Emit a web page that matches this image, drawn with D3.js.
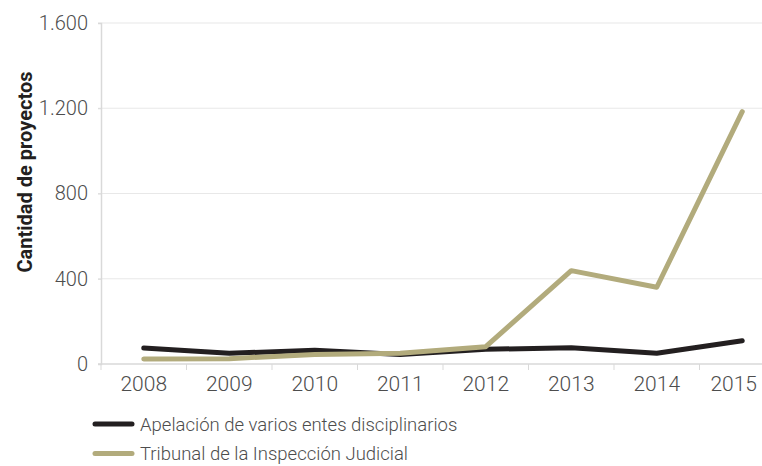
<!DOCTYPE html>
<html>
<head>
<meta charset="utf-8">
<script src="https://cdn.jsdelivr.net/npm/d3@7/dist/d3.min.js"></script>
<style>
  html, body { margin: 0; padding: 0; background: #fff; }
  svg { display: block; }
  text { font-family: "Roboto", "Liberation Sans", sans-serif; }
</style>
</head>
<body>
<svg id="chart" width="762" height="466"></svg>
<script>
// Years along the x axis
const years = ["2008", "2009", "2010", "2011", "2012", "2013", "2014", "2015"];
// Number of projects per year, by body
const apelacion = [75, 50, 65, 45, 69, 76, 50, 109];
const tribunal = [23, 25, 45, 50, 81, 438, 360, 1184];
const seriesNames = ["Apelación de varios entes disciplinarios", "Tribunal de la Inspección Judicial"];
const seriesColors = ["#231f20", "#b2ab7c"];
const yTicks = [0, 400, 800, 1200, 1600];

const W = 762;
const svg = d3.select("#chart");
const plot = { left: 101, top: 23, bottom: 364, right: 785 };

const x = d3.scaleBand().domain(years).range([plot.left, plot.right]);
const y = d3.scaleLinear().domain([0, 1600]).range([plot.bottom, plot.top]);

const fmt = d => d3.format(",")(d).replace(/,/g, ".");
const labelColor = "#4d4d4d";

// Horizontal gridlines
svg.append("g").selectAll("line").data(yTicks.filter(d => d > 0)).join("line")
  .attr("x1", plot.left - 3).attr("x2", W)
  .attr("y1", d => y(d)).attr("y2", d => y(d))
  .attr("stroke", "#e8e8e8").attr("stroke-width", 1.2);

// Y axis
const yAxis = svg.append("g").attr("transform", `translate(${plot.left},0)`)
  .call(d3.axisLeft(y).tickValues(yTicks).tickFormat(fmt).tickSize(3).tickPadding(10));
yAxis.select(".domain").attr("stroke", "#d9d9d9").attr("stroke-width", 1.5);
yAxis.selectAll(".tick line").attr("stroke", "#d9d9d9");
yAxis.selectAll(".tick text")
  .attr("font-size", 20).attr("font-weight", 300).attr("fill", labelColor)
  .attr("font-family", "Roboto, sans-serif");

// X axis
const xAxis = svg.append("g").attr("transform", `translate(0,${plot.bottom})`)
  .call(d3.axisBottom(x).tickSize(0).tickPadding(12));
xAxis.select(".domain").remove();
svg.append("line").attr("x1", plot.left - 3).attr("x2", W)
  .attr("y1", plot.bottom).attr("y2", plot.bottom)
  .attr("stroke", "#d9d9d9").attr("stroke-width", 1.5);
svg.append("g").selectAll("line").data(years).join("line")
  .attr("x1", d => x(d)).attr("x2", d => x(d))
  .attr("y1", plot.bottom).attr("y2", plot.bottom + 6)
  .attr("stroke", "#d9d9d9").attr("stroke-width", 1);
xAxis.selectAll(".tick text")
  .attr("font-size", 21).attr("font-weight", 300).attr("fill", labelColor)
  .attr("font-family", "Roboto, sans-serif");

// Keep tick labels inside the right edge
xAxis.selectAll(".tick").each(function () {
  const t = d3.select(this);
  const text = t.select("text").node();
  const box = text.getBBox();
  const m = /translate\(([-\d.]+)/.exec(t.attr("transform"));
  const cx = m ? +m[1] : 0;
  const overflow = cx + box.x + box.width - (W - 5);
  if (overflow > 0) d3.select(text).attr("x", -overflow);
});

// Y axis title
svg.append("text")
  .attr("transform", `translate(32,172) rotate(-90)`)
  .attr("text-anchor", "middle")
  .attr("font-size", 20).attr("font-weight", "bold").attr("fill", "#231f20")
  .attr("font-family", "Roboto, sans-serif")
  .text("Cantidad de proyectos");

// Lines
const line = d3.line()
  .x((d, i) => x(years[i]) + x.bandwidth() / 2)
  .y(d => y(d));

[apelacion, tribunal].forEach((vals, k) => {
  svg.append("path").datum(vals)
    .attr("d", line)
    .attr("fill", "none")
    .attr("stroke", seriesColors[k])
    .attr("stroke-width", 5)
    .attr("stroke-linecap", "round")
    .attr("stroke-linejoin", "round");
});

// Legend
const legend = svg.append("g").selectAll("g").data(seriesNames).join("g")
  .attr("transform", (d, i) => `translate(95,${424 + i * 29.5})`);
legend.append("line")
  .attr("x1", 0).attr("x2", 37).attr("y1", 0).attr("y2", 0)
  .attr("stroke", (d, i) => seriesColors[i]).attr("stroke-width", 5)
  .attr("stroke-linecap", "round");
legend.append("text")
  .attr("x", 45).attr("y", 6.5)
  .attr("font-size", 18.5).attr("font-weight", 300).attr("fill", labelColor)
  .text(d => d);
</script>
</body>
</html>
